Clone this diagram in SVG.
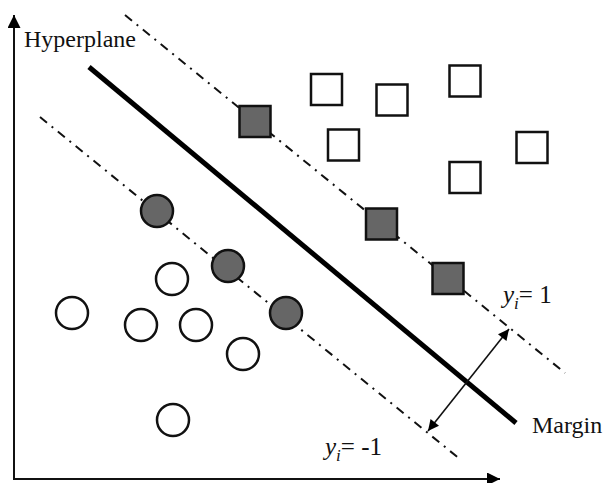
<svg xmlns="http://www.w3.org/2000/svg" width="603" height="483" viewBox="0 0 603 483">
<defs>
<marker id="axh" viewBox="0 0 10 10" refX="10" refY="5" markerWidth="14" markerHeight="13" markerUnits="userSpaceOnUse" orient="auto">
<path d="M0,0 L10,5 L0,10 z" fill="#000"/>
</marker>
<marker id="mh" viewBox="0 0 10 10" refX="10" refY="5" markerWidth="13" markerHeight="11" markerUnits="userSpaceOnUse" orient="auto-start-reverse">
<path d="M0,0 L10,5 L0,10 z" fill="#000"/>
</marker>
</defs>
<style>
.sq{stroke:#111;stroke-width:2.5}
.f{fill:#666}
.o{fill:#fff}
.c{stroke:#111;stroke-width:2.5}
.dd{stroke:#111;stroke-width:2;stroke-dasharray:9 6 2 6;fill:none}
text{font-family:"Liberation Serif","Times New Roman",serif;font-size:24px;fill:#111}
.lab{font-size:25px}
</style>
<g id="connectors">
<line id="y-axis" x1="14" y1="479" x2="14" y2="15" stroke="#111" stroke-width="2" marker-end="url(#axh)"/>
<line id="x-axis" x1="13" y1="479" x2="500" y2="479" stroke="#111" stroke-width="2" marker-end="url(#axh)"/>
<line id="upper-margin" class="dd" x1="125" y1="15" x2="565" y2="373"/>
<line id="lower-margin" class="dd" x1="40" y1="117" x2="461" y2="460"/>
<line id="hyperplane" x1="89" y1="67" x2="516" y2="423" stroke="#000" stroke-width="5"/>
<line id="margin-arrow" x1="428" y1="431" x2="509" y2="329" stroke="#111" stroke-width="1.6" marker-start="url(#mh)" marker-end="url(#mh)"/>
</g>
<g id="sq1"><rect class="sq f" x="239.5" y="106" width="31" height="31"/></g>
<g id="sq2"><rect class="sq f" x="366" y="208.5" width="31" height="31"/></g>
<g id="sq3"><rect class="sq f" x="432.5" y="263" width="31" height="31"/></g>
<g id="sq4"><rect class="sq o" x="311" y="74" width="31" height="31"/></g>
<g id="sq5"><rect class="sq o" x="376.5" y="84.5" width="31" height="31"/></g>
<g id="sq6"><rect class="sq o" x="328" y="129.5" width="31" height="31"/></g>
<g id="sq7"><rect class="sq o" x="449.5" y="65.5" width="31" height="31"/></g>
<g id="sq8"><rect class="sq o" x="516.5" y="132" width="31" height="31"/></g>
<g id="sq9"><rect class="sq o" x="449.5" y="162" width="31" height="31"/></g>
<g id="c1"><circle class="c f" cx="157" cy="211" r="16"/></g>
<g id="c2"><circle class="c f" cx="228" cy="266" r="16"/></g>
<g id="c3"><circle class="c f" cx="286" cy="313" r="16"/></g>
<g id="c4"><circle class="c o" cx="172" cy="279" r="16"/></g>
<g id="c5"><circle class="c o" cx="72" cy="313" r="16"/></g>
<g id="c6"><circle class="c o" cx="141" cy="325" r="16"/></g>
<g id="c7"><circle class="c o" cx="196" cy="325" r="16"/></g>
<g id="c8"><circle class="c o" cx="243" cy="354" r="16"/></g>
<g id="c9"><circle class="c o" cx="173" cy="420" r="16"/></g>
<g id="labels">
<text x="24" y="47">Hyperplane</text>
<text x="532" y="433">Margin</text>
<text class="lab" x="503" y="303"><tspan font-style="italic">y</tspan><tspan font-style="italic" font-size="17" dy="6">i</tspan><tspan dy="-6">= 1</tspan></text>
<text class="lab" x="325" y="455"><tspan font-style="italic">y</tspan><tspan font-style="italic" font-size="17" dy="6">i</tspan><tspan dy="-6">= -1</tspan></text>
</g>
</svg>
